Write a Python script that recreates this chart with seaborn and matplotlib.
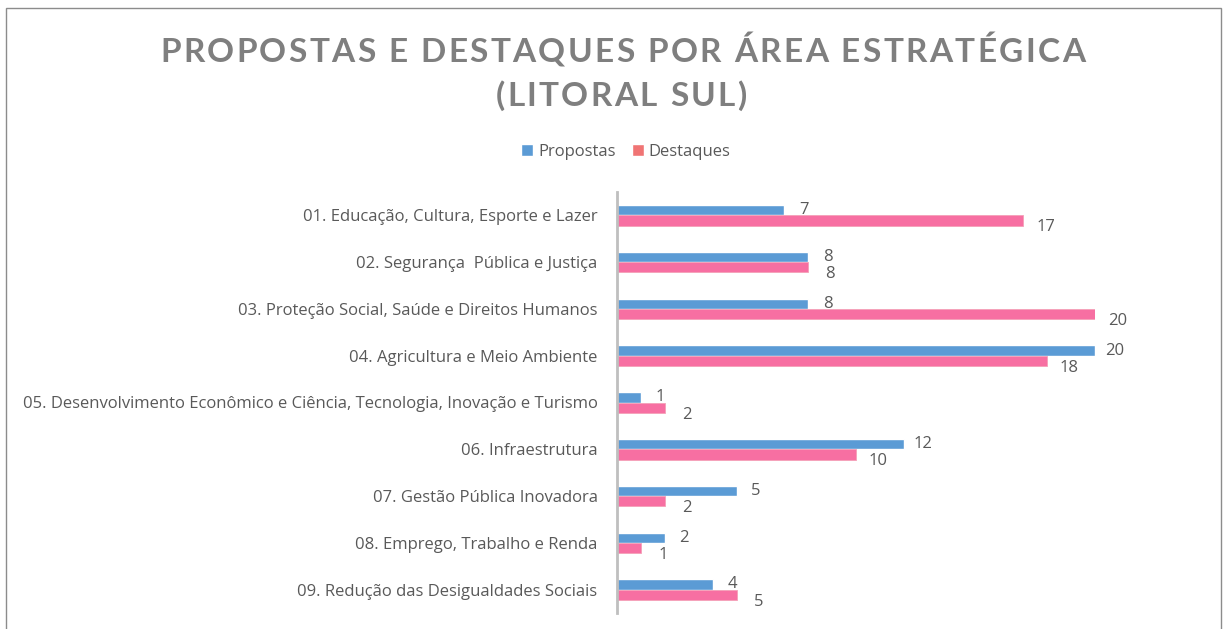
import pandas as pd
import matplotlib.pyplot as plt
import seaborn as sns
from matplotlib.patches import Patch, Rectangle

# Chart data
categories = [
    "01. Educação, Cultura, Esporte e Lazer",
    "02. Segurança  Pública e Justiça",
    "03. Proteção Social, Saúde e Direitos Humanos",
    "04. Agricultura e Meio Ambiente",
    "05. Desenvolvimento Econômico e Ciência, Tecnologia, Inovação e Turismo",
    "06. Infraestrutura",
    "07. Gestão Pública Inovadora",
    "08. Emprego, Trabalho e Renda",
    "09. Redução das Desigualdades Sociais",
]
propostas = [7, 8, 8, 20, 1, 12, 5, 2, 4]
destaques = [17, 8, 20, 18, 2, 10, 2, 1, 5]
series_names = ["Propostas", "Destaques"]
title_lines = ["PROPOSTAS E DESTAQUES POR ÁREA ESTRATÉGICA", "(LITORAL SUL)"]

df = pd.DataFrame({"Área": categories, "Propostas": propostas, "Destaques": destaques})
long_df = df.melt(id_vars="Área", var_name="Série", value_name="Valor")

blue = "#5B9BD5"
pink = "#F76FA2"
salmon = "#F07474"
text_gray = "#595959"
title_gray = "#7F7F7F"

W, H = 1226, 629

sns.set_theme(style="white")
plt.rcParams["font.family"] = ["Open Sans", "DejaVu Sans"]

fig = plt.figure(figsize=(W / 100, H / 100), dpi=100)
ax = fig.add_axes([617 / W, 1 - 613 / H, (1095 - 617) / W, (613 - 192) / H])

sns.barplot(data=long_df, y="Área", x="Valor", hue="Série", hue_order=series_names,
            order=categories, palette=[blue, pink], width=0.44, orient="h",
            ax=ax, legend=False, saturation=1)

# edge accent on the pink bars, like the gradient end in the original
for bar in ax.containers[1]:
    bar.set_edgecolor("#F5A0B8")
    bar.set_linewidth(0.6)

ax.set_xlim(0, 20)
ax.set_xlabel("")
ax.set_ylabel("")
ax.set_xticks([])
ax.tick_params(axis="y", length=0, pad=14, labelsize=12, labelcolor=text_gray)
for side in ["top", "right", "bottom"]:
    ax.spines[side].set_visible(False)
ax.spines["left"].set_color("#BFBFBF")
ax.spines["left"].set_linewidth(2)

# data labels
for bar, v in zip(ax.containers[0], propostas):
    y = bar.get_y() + bar.get_height() / 2
    ax.annotate(str(v), (bar.get_width(), y), xytext=(14, 0), textcoords="offset points",
                ha="center", va="center", fontsize=12, color=text_gray)
for bar, v in zip(ax.containers[1], destaques):
    y = bar.get_y() + bar.get_height() / 2
    ax.annotate(str(v), (bar.get_width(), y), xytext=(16, -5), textcoords="offset points",
                ha="center", va="center", fontsize=12, color=text_gray)

# title with letter spacing (placed char by char)
renderer = fig.canvas.get_renderer()
title_kw = dict(family="Lato", fontsize=24, fontweight="bold", color=title_gray)


def text_width(s):
    t = fig.text(0, 0, s.replace(" ", "\u00a0"), **title_kw)
    w = t.get_window_extent(renderer).width
    t.remove()
    return w


def tracked_title(s, x_left, baseline, tracking):
    for i, ch in enumerate(s):
        x = x_left + text_width(s[:i]) + i * tracking if i else x_left
        fig.text(x / W, 1 - baseline / H, ch, ha="left", va="baseline", **title_kw)


line1 = title_lines[0]
track = (925 - text_width(line1)) / (len(line1) - 1)
tracked_title(line1, 160, 62, track)
line2 = title_lines[1]
w2 = text_width(line2) + track * (len(line2) - 1)
tracked_title(line2, 621 - w2 / 2, 106, track)

# legend
handles = [Patch(facecolor=blue, label="Propostas"), Patch(facecolor=salmon, label="Destaques")]
fig.legend(handles=handles, loc="center", bbox_to_anchor=(626 / W, 1 - 152 / H), ncol=2,
           frameon=False, fontsize=12, labelcolor=text_gray, handlelength=0.7,
           handleheight=0.7, handletextpad=0.3, columnspacing=1.0)

# chart border
fig.patches.append(Rectangle((6 / W, -0.02), 1215 / W, 1 - 8 / H + 0.02,
                             transform=fig.transFigure, fill=False,
                             edgecolor="#8C8C8C", linewidth=1))

fig.savefig("out.png", dpi=100)
